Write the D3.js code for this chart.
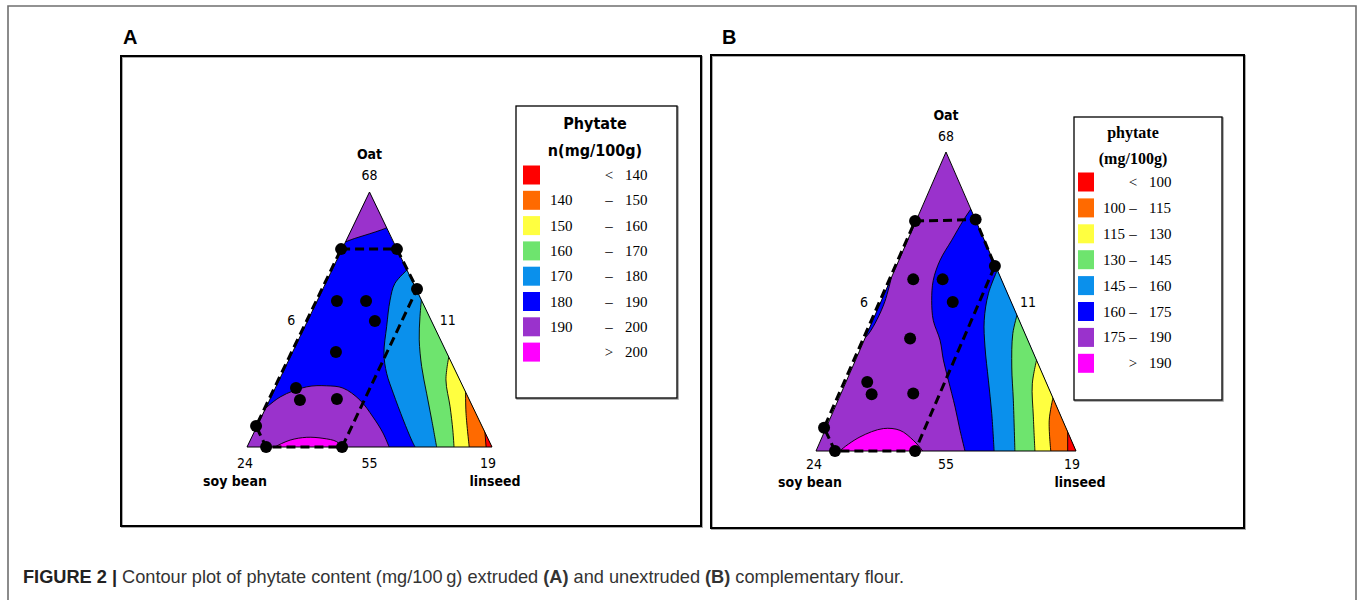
<!DOCTYPE html>
<html>
<head>
<meta charset="utf-8">
<script src="https://cdn.jsdelivr.net/npm/d3@7/dist/d3.min.js"></script>
<style>
  body { margin: 0; background: #fff; }
  text { fill: #000; }
</style>
</head>
<body>
<svg id="chart" width="1357" height="600"></svg>
<script>
// Band colours, lowest band first (same order as the legend rows)
var bandColors = ['#ff0000', '#ff6a00', '#ffff40', '#6ee46e', '#0a90ec', '#0000ff', '#9a32cc', '#ff00ff'];

var legendRowsA = [['', '<', '140'], ['140', '\u2013', '150'], ['150', '\u2013', '160'], ['160', '\u2013', '170'],
                   ['170', '\u2013', '180'], ['180', '\u2013', '190'], ['190', '\u2013', '200'], ['', '>', '200']];
var legendRowsB = [['', '<', '100'], ['100', '\u2013', '115'], ['115', '\u2013', '130'], ['130', '\u2013', '145'],
                   ['145', '\u2013', '160'], ['160', '\u2013', '175'], ['175', '\u2013', '190'], ['', '>', '190']];

// Axis labels: apex, left side, right side, left corner, base, right corner
var axisValues = ['68', '6', '11', '24', '55', '19'];
var componentNames = ['Oat', 'soy bean', 'linseed'];

// Points are [across, up] fractions of the triangle (0..1)
// Design region (dashed) and the runs
var designA = [[0.384, 0.776], [0.612, 0.776], [0.694, 0.620], [0.388, 0], [0.078, 0], [0.037, 0.082]];
var runsA = [[0.367, 0.573], [0.486, 0.573], [0.522, 0.494], [0.363, 0.373], [0.200, 0.231], [0.216, 0.184], [0.367, 0.188]];
var designB = [[0.381, 0.769], [0.614, 0.774], [0.688, 0.619], [0.381, 0], [0.073, 0], [0.031, 0.078]];
var runsB = [[0.374, 0.574], [0.487, 0.574], [0.526, 0.498], [0.362, 0.376], [0.197, 0.231], [0.214, 0.190], [0.374, 0.192]];

// Contour boundaries, panel A (extruded)
var aTopCap = [[0.39, 0.80], [0.44, 0.818], [0.50, 0.836], [0.55, 0.852], [0.59, 0.868]];
var aSoyCap = [[0.045, 0.125], [0.135, 0.196], [0.244, 0.236], [0.325, 0.240], [0.392, 0.231], [0.461, 0.184],
               [0.514, 0.118], [0.555, 0.055], [0.580, 0]];
var aPeak = [[0.10, -0.01], [0.114, 0], [0.176, 0.027], [0.244, 0.038], [0.310, 0.034], [0.366, 0.021], [0.386, 0], [0.39, -0.01]];
var a170 = [[0.66, 0.70], [0.604, 0.642], [0.584, 0.576], [0.570, 0.472], [0.559, 0.367], [0.570, 0.289],
            [0.597, 0.211], [0.638, 0.106], [0.672, 0.027], [0.686, 0]];
var a160 = [[0.713, 0.589], [0.706, 0.511], [0.703, 0.420], [0.713, 0.315], [0.733, 0.211], [0.754, 0.106], [0.774, 0]];
var a150 = [[0.825, 0.36], [0.812, 0.263], [0.829, 0.158], [0.840, 0.067], [0.845, 0]];
var a140 = [[0.892, 0.225], [0.894, 0.132], [0.907, 0]];
var aLow = [[0.97, 0.07], [0.976, 0]];

// Contour boundaries, panel B (unextruded)
var b175 = [[0.60, 0.815], [0.567, 0.772], [0.522, 0.705], [0.477, 0.638], [0.451, 0.571], [0.445, 0.504],
            [0.451, 0.437], [0.477, 0.371], [0.490, 0.304], [0.509, 0.237], [0.535, 0.147], [0.554, 0.069], [0.573, 0]];
var bSliver = [[0.29, 0.58], [0.265, 0.50], [0.235, 0.44], [0.205, 0.395], [0.185, 0.375]];
var b160 = [[0.70, 0.61], [0.663, 0.526], [0.647, 0.437], [0.650, 0.348], [0.663, 0.237], [0.676, 0.125], [0.685, 0]];
var b145 = [[0.775, 0.46], [0.757, 0.393], [0.753, 0.281], [0.759, 0.170], [0.765, 0]];
var b130 = [[0.85, 0.31], [0.832, 0.225], [0.836, 0.114], [0.842, 0]];
var b115 = [[0.912, 0.18], [0.897, 0.103], [0.903, 0]];
var bLow = [[0.968, 0.07], [0.968, 0]];
var bPeak = [[0.085, -0.01], [0.092, 0], [0.169, 0.047], [0.259, 0.075], [0.323, 0.069], [0.374, 0.036], [0.410, 0], [0.415, -0.01]];

var panels = [
  {
    id: 'A', letterX: 123, frame: [121, 56, 701, 526],
    left: 247, right: 492, base: 447, apex: 192,
    baseBand: 5,
    regions: [
      {curve: a170, band: 4, side: 'right'},
      {curve: a160, band: 3, side: 'right'},
      {curve: a150, band: 2, side: 'right'},
      {curve: a140, band: 1, side: 'right'},
      {curve: aLow, band: 0, side: 'right'},
      {curve: aTopCap, band: 6, side: 'top'},
      {curve: aSoyCap, band: 6, side: 'bottom'},
      {curve: aPeak, band: 7, side: 'bottom'}
    ],
    design: designA, runs: designA.concat(runsA),
    legend: {box: [516, 106, 161, 292], rows: legendRowsA, title: ['Phytate', 'n(mg/100g)'], titleX: 595,
             titleY: [129, 156], titleFont: '"DejaVu Sans Condensed", "DejaVu Sans", sans-serif', titleSize: 16,
             rowY: 175, step: 25.3, swatchX: 523, swatchW: 17, loX: 550, midX: 609, hiX: 625},
    labelDy: {oat: -33, top: -12, base: 21, names: 39},
    names: [-12, 3]
  },
  {
    id: 'B', letterX: 722, frame: [711, 55, 1244, 528],
    left: 816, right: 1076, base: 451, apex: 152,
    baseBand: 6,
    regions: [
      {curve: b175, band: 5, side: 'right'},
      {curve: bSliver, band: 5, side: 'left'},
      {curve: b160, band: 4, side: 'right'},
      {curve: b145, band: 3, side: 'right'},
      {curve: b130, band: 2, side: 'right'},
      {curve: b115, band: 1, side: 'right'},
      {curve: bLow, band: 0, side: 'right'},
      {curve: bPeak, band: 7, side: 'bottom'}
    ],
    design: designB, runs: designB.concat(runsB),
    legend: {box: [1074, 117, 148, 283], rows: legendRowsB, title: ['phytate', '(mg/100g)'], titleX: 1133,
             titleY: [138, 164], titleFont: '"Liberation Serif", "Times New Roman", serif', titleSize: 16,
             rowY: 182, step: 25.9, swatchX: 1078, swatchW: 16, loX: 1103, midX: 1133, hiX: 1149},
    labelDy: {oat: -32, top: -11, base: 18, names: 36},
    names: [-6, 4]
  }
];

var svg = d3.select('#chart');
var sansCond = '"DejaVu Sans Condensed", "DejaVu Sans", sans-serif';
var serif = '"Liberation Serif", "Times New Roman", serif';

// Figure border (left, top, right)
svg.append('path')
  .attr('d', 'M8,600 L8,6 L1356,6 L1356,600')
  .attr('fill', 'none')
  .attr('stroke', '#6f6f6f')
  .attr('stroke-width', 1.6);

panels.forEach(drawPanel);

// Caption
var caption = svg.append('text')
  .attr('x', 23)
  .attr('y', 583)
  .attr('font-family', '"Liberation Sans", Arial, sans-serif')
  .attr('font-size', 18.2)
  .style('fill', '#333');
caption.append('tspan').attr('font-weight', 'bold').style('fill', '#222').text('FIGURE 2 | ');
caption.append('tspan').text('Contour plot of phytate content (mg/100\u2009g) extruded ');
caption.append('tspan').attr('font-weight', 'bold').text('(A)');
caption.append('tspan').text(' and unextruded ');
caption.append('tspan').attr('font-weight', 'bold').text('(B)');
caption.append('tspan').text(' complementary flour.');

function drawPanel(p) {
  var x = d3.scaleLinear().domain([0, 1]).range([p.left, p.right]);
  var y = d3.scaleLinear().domain([0, 1]).range([p.base, p.apex]);
  var g = svg.append('g').attr('class', 'panel panel-' + p.id);

  var smooth = d3.line()
    .x(function(d) { return x(d[0]); })
    .y(function(d) { return y(d[1]); })
    .curve(d3.curveCatmullRom.alpha(0.5));
  var straight = d3.line()
    .x(function(d) { return x(d[0]); })
    .y(function(d) { return y(d[1]); });

  // Panel frame with a soft grey edge
  var f = p.frame;
  g.append('rect')
    .attr('x', f[0] + 1).attr('y', f[1] + 1)
    .attr('width', f[2] - f[0]).attr('height', f[3] - f[1])
    .attr('fill', 'none').attr('stroke', '#aaa').attr('stroke-width', 2);
  g.append('rect')
    .attr('x', f[0]).attr('y', f[1])
    .attr('width', f[2] - f[0]).attr('height', f[3] - f[1])
    .attr('fill', 'none').attr('stroke', '#000').attr('stroke-width', 2);

  g.append('text')
    .attr('x', p.letterX).attr('y', 44)
    .attr('font-family', '"Liberation Sans", Arial, sans-serif')
    .attr('font-weight', 'bold')
    .attr('font-size', 20)
    .text(p.id);

  var corners = [[0, 0], [1, 0], [0.5, 1]];
  var clipId = 'clip-' + p.id;
  g.append('clipPath').attr('id', clipId)
    .append('path').attr('d', straight(corners) + 'Z');

  var area = g.append('g').attr('clip-path', 'url(#' + clipId + ')');
  area.append('path')
    .attr('d', straight(corners) + 'Z')
    .attr('fill', bandColors[p.baseBand]);

  // Each band is painted over the previous one; the clip trims it to the triangle
  area.selectAll('path.band')
    .data(p.regions)
    .enter()
    .append('path')
      .attr('class', 'band')
      .attr('fill', function(r) { return bandColors[r.band]; })
      .attr('d', function(r) {
        return smooth(r.curve) + straight(closure(r)).replace('M', 'L') + 'Z';
      });

  area.selectAll('path.contour')
    .data(p.regions)
    .enter()
    .append('path')
      .attr('class', 'contour')
      .attr('fill', 'none')
      .attr('stroke', '#000')
      .attr('stroke-width', 0.9)
      .attr('d', function(r) { return smooth(r.curve); });

  g.append('path')
    .attr('d', straight(corners) + 'Z')
    .attr('fill', 'none')
    .attr('stroke', '#000')
    .attr('stroke-width', 1);

  // Experimental region
  g.append('path')
    .attr('d', straight(p.design) + 'Z')
    .attr('fill', 'none')
    .attr('stroke', '#000')
    .attr('stroke-width', 3)
    .attr('stroke-dasharray', '9,5');

  g.selectAll('circle.run')
    .data(p.runs)
    .enter()
    .append('circle')
      .attr('class', 'run')
      .attr('r', 6)
      .attr('cx', function(d) { return x(d[0]); })
      .attr('cy', function(d) { return y(d[1]); })
      .attr('fill', '#000');

  // Vertex and side labels
  var lbl = p.labelDy;
  g.append('text')
    .attr('x', x(0.5)).attr('y', y(1) + lbl.oat)
    .attr('text-anchor', 'middle')
    .attr('font-family', sansCond).attr('font-weight', 'bold').attr('font-size', 14)
    .text(componentNames[0]);
  var valuePos = [
    [x(0.5), y(1) + lbl.top],
    [x(0.25) - 17, y(0.5) + 5],
    [x(0.75) + 17, y(0.5) + 5],
    [x(0) - 2, y(0) + lbl.base],
    [x(0.5), y(0) + lbl.base],
    [x(1) - 4, y(0) + lbl.base]
  ];
  g.selectAll('text.value')
    .data(axisValues)
    .enter()
    .append('text')
      .attr('class', 'value')
      .attr('x', function(d, i) { return valuePos[i][0]; })
      .attr('y', function(d, i) { return valuePos[i][1]; })
      .attr('text-anchor', 'middle')
      .attr('font-family', sansCond).attr('font-size', 14)
      .text(function(d) { return d; });
  g.append('text')
    .attr('x', x(0) + p.names[0]).attr('y', y(0) + lbl.names)
    .attr('text-anchor', 'middle')
    .attr('font-family', sansCond).attr('font-weight', 'bold').attr('font-size', 14)
    .text(componentNames[1]);
  g.append('text')
    .attr('x', x(1) + p.names[1]).attr('y', y(0) + lbl.names)
    .attr('text-anchor', 'middle')
    .attr('font-family', sansCond).attr('font-weight', 'bold').attr('font-size', 14)
    .text(componentNames[2]);

  drawLegend(g, p.legend);
}

// Extra points outside the triangle that close a band polygon
function closure(r) {
  var c = r.curve;
  var first = c[0];
  var last = c[c.length - 1];
  if (r.side === 'right') {
    return [[last[0], -0.4], [1.5, -0.4], [1.5, first[1] + 0.4]];
  } else if (r.side === 'top') {
    return [[1.5, last[1]], [1.5, 1.5], [-0.5, 1.5], [-0.5, first[1]]];
  } else if (r.side === 'bottom') {
    return [[last[0], -0.4], [-0.5, -0.4], [-0.5, first[1]]];
  }
  return [[-0.5, last[1]], [-0.5, first[1]]];
}

function drawLegend(g, L) {
  var b = L.box;
  var lg = g.append('g').attr('class', 'legend');
  lg.append('rect')
    .attr('x', b[0] + 1).attr('y', b[1] + 1).attr('width', b[2]).attr('height', b[3])
    .attr('fill', 'none').attr('stroke', '#999').attr('stroke-width', 1.5);
  lg.append('rect')
    .attr('x', b[0]).attr('y', b[1]).attr('width', b[2]).attr('height', b[3])
    .attr('fill', '#fff').attr('stroke', '#000').attr('stroke-width', 1.3);

  L.title.forEach(function(t, i) {
    lg.append('text')
      .attr('x', L.titleX).attr('y', L.titleY[i])
      .attr('text-anchor', 'middle')
      .attr('font-family', L.titleFont).attr('font-weight', 'bold').attr('font-size', L.titleSize)
      .text(t);
  });

  var row = lg.selectAll('g.row')
    .data(L.rows)
    .enter()
    .append('g')
      .attr('class', 'row')
      .attr('transform', function(d, i) { return 'translate(0,' + (L.rowY + i * L.step) + ')'; });

  row.append('rect')
    .attr('x', L.swatchX).attr('y', -9.5)
    .attr('width', L.swatchW).attr('height', 19)
    .attr('fill', function(d, i) { return bandColors[i]; });

  row.append('text')
    .attr('x', L.loX).attr('y', 5)
    .attr('font-family', serif).attr('font-size', 15)
    .text(function(d) { return d[0]; });
  row.append('text')
    .attr('x', L.midX).attr('y', 5)
    .attr('text-anchor', 'middle')
    .attr('font-family', serif).attr('font-size', 15)
    .text(function(d) { return d[1]; });
  row.append('text')
    .attr('x', L.hiX).attr('y', 5)
    .attr('font-family', serif).attr('font-size', 15)
    .text(function(d) { return d[2]; });
}
</script>
</body>
</html>
